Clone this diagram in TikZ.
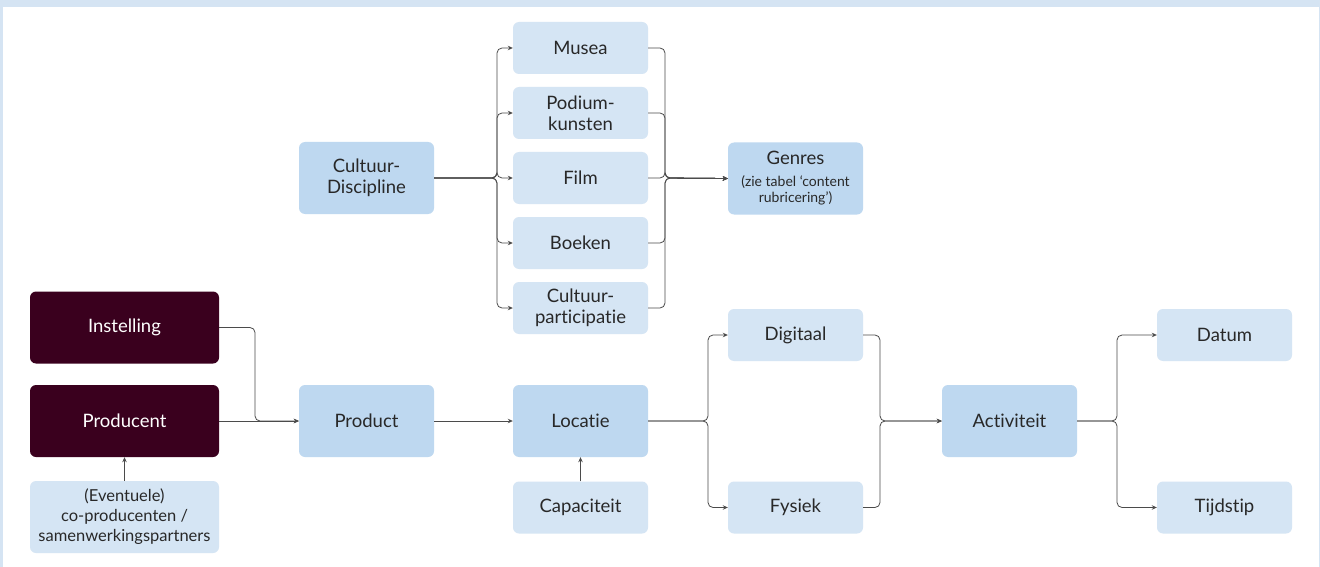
\documentclass[tikz,border=0pt]{standalone}
\usepackage{fontspec}
\setmainfont{Lato}[Ligatures={NoCommon}]
\usetikzlibrary{arrows.meta}
\definecolor{framebg}{RGB}{213,228,243}
\definecolor{boxlight}{RGB}{213,229,244}
\definecolor{boxmid}{RGB}{190,216,240}
\definecolor{boxdark}{RGB}{58,0,30}
\definecolor{inktext}{RGB}{40,40,40}
\definecolor{linkgray}{RGB}{75,75,75}
\newcommand{\mainfont}{\fontsize{18.5}{21}\selectfont}
\newcommand{\subfont}{\fontsize{14}{16.5}\selectfont}

\begin{document}
\begin{tikzpicture}[x=1pt, y=-1pt,
  entity/.style={rounded corners=6pt, fill=boxlight, text=inktext, align=center,
                 minimum width=135pt, minimum height=52pt, inner sep=2pt,
                 font=\mainfont},
  keyentity/.style={entity, fill=boxmid, minimum height=72pt},
  partyentity/.style={entity, fill=boxdark, text=white,
                      minimum width=189pt, minimum height=72pt},
  link/.style={draw=linkgray, line width=0.8pt, rounded corners=5pt,
               -{Stealth[length=5pt, width=4.5pt]}}]
  % frame
  \fill[framebg] (0,0) rectangle (1320,567);
  \fill[white] (3,7) rectangle (1318.5,567);

  % discipline branch
  \node[keyentity] (cd) at (366.5,178) {Cultuur-\\Discipline};
  \foreach \name/\y/\label in
    {musea/48/Musea, podium/113/Podium-\\kunsten, film/178/Film,
     boeken/243/Boeken, cultpart/308/Cultuur-\\participatie} {
    \node[entity] (\name) at (580.5,\y) {\label};
  }
  \node[keyentity, font=\subfont] (genres) at (795.5,178.5)
    {{\mainfont Genres}\\[5pt](zie tabel ‘content\\rubricering’)};

  % main row
  \node[partyentity] (instelling) at (124.5,327.5) {Instelling};
  \node[partyentity] (producent) at (124.5,421) {Producent};
  \node[entity, minimum width=189pt, minimum height=72pt,
        font=\fontsize{16.5}{20}\selectfont] (partners)
    at (124.5,517) {(Eventuele)\\co-producenten /\\samenwerkingspartners};
  \node[keyentity] (product) at (366.5,421) {Product};
  \node[keyentity] (locatie) at (580.5,421) {Locatie};
  \node[entity] (capaciteit) at (580.5,507.5) {Capaciteit};
  \node[entity] (digitaal) at (795.5,335) {Digitaal};
  \node[entity] (fysiek) at (795.5,507.5) {Fysiek};
  \node[keyentity] (activiteit) at (1009.5,421) {Activiteit};
  \node[entity] (datum) at (1224.5,335) {Datum};
  \node[entity] (tijdstip) at (1224.5,507.5) {Tijdstip};

  % bracket points
  \coordinate (splitA) at (497,178);
  \coordinate (joinA) at (665,178);
  \coordinate (joinB) at (255,421);
  \coordinate (splitB) at (708,421);
  \coordinate (joinC) at (880,421);
  \coordinate (splitC) at (1117,421);

  \foreach \t in {musea, podium, film, boeken, cultpart} {
    \draw[link] (cd.east) -- (splitA) |- (\t.west);
    \draw[link] (\t.east) -| (joinA) -- (genres.west);
  }
  \draw[link] (instelling.east) -| (joinB) -- (product.west);
  \draw[link] (producent.east) -- (product.west);
  \draw[link] (partners.north) -- (producent.south);
  \draw[link] (product.east) -- (locatie.west);
  \draw[link] (capaciteit.north) -- (locatie.south);
  \foreach \t in {digitaal, fysiek} {
    \draw[link] (locatie.east) -- (splitB) |- (\t.west);
    \draw[link] (\t.east) -| (joinC) -- (activiteit.west);
  }
  \foreach \t in {datum, tijdstip}
    \draw[link] (activiteit.east) -- (splitC) |- (\t.west);
\end{tikzpicture}
\end{document}
